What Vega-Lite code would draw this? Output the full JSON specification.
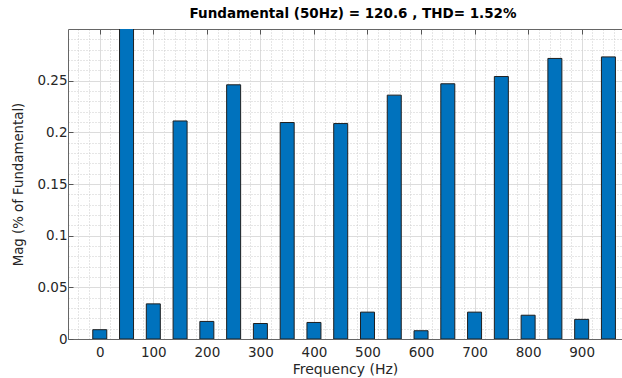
{
  "$schema": "https://vega.github.io/schema/vega-lite/v6.json",
  "width": 554,
  "height": 310,
  "autosize": "none",
  "padding": {"left": 68, "top": 29, "right": 0, "bottom": 39},
  "background": "white",
  "title": {
    "text": "Fundamental (50Hz) = 120.6 , THD= 1.52%",
    "font": "DejaVu Sans",
    "fontSize": 13.5,
    "fontWeight": "bold",
    "color": "#000000",
    "anchor": "middle",
    "dx": 8,
    "offset": 8
  },
  "config": {"view": {"stroke": null}},
  "data": {
    "values": [
      {"freq": 0, "mag": 0.009},
      {"freq": 50, "mag": 100},
      {"freq": 100, "mag": 0.034},
      {"freq": 150, "mag": 0.211},
      {"freq": 200, "mag": 0.017},
      {"freq": 250, "mag": 0.246},
      {"freq": 300, "mag": 0.015},
      {"freq": 350, "mag": 0.2095},
      {"freq": 400, "mag": 0.016},
      {"freq": 450, "mag": 0.2085},
      {"freq": 500, "mag": 0.026},
      {"freq": 550, "mag": 0.236},
      {"freq": 600, "mag": 0.008},
      {"freq": 650, "mag": 0.247},
      {"freq": 700, "mag": 0.026},
      {"freq": 750, "mag": 0.254},
      {"freq": 800, "mag": 0.023},
      {"freq": 850, "mag": 0.2715},
      {"freq": 900, "mag": 0.019},
      {"freq": 950, "mag": 0.273}
    ]
  },
  "layer": [
    {
      "mark": {"type": "bar", "opacity": 0, "size": 14, "clip": true},
      "encoding": {
        "x": {
          "field": "freq", "type": "quantitative",
          "scale": {"domain": [-50, 966], "nice": false, "zero": false},
          "axis": {
            "orient": "bottom",
            "values": [-40, -20, 0, 20, 40, 60, 80, 100, 120, 140, 160, 180, 200, 220, 240, 260, 280, 300, 320, 340, 360, 380, 400, 420, 440, 460, 480, 500, 520, 540, 560, 580, 600, 620, 640, 660, 680, 700, 720, 740, 760, 780, 800, 820, 840, 860, 880, 900, 920, 940, 960],
            "grid": true, "gridDash": [1, 2], "gridColor": "#cccccc", "gridWidth": 1,
            "ticks": false, "labels": false, "domain": false, "title": null
          }
        },
        "y": {
          "field": "mag", "type": "quantitative",
          "scale": {"domain": [0, 0.3], "nice": false, "zero": true},
          "axis": {
            "orient": "left",
            "values": [0.01, 0.02, 0.03, 0.04, 0.06, 0.07, 0.08, 0.09, 0.11, 0.12, 0.13, 0.14, 0.16, 0.17, 0.18, 0.19, 0.21, 0.22, 0.23, 0.24, 0.26, 0.27, 0.28, 0.29],
            "grid": true, "gridDash": [1, 2], "gridColor": "#cccccc", "gridWidth": 1,
            "ticks": false, "labels": false, "domain": false, "title": null
          }
        }
      }
    },
    {
      "mark": {"type": "bar", "size": 14, "clip": true, "fill": "#0072BD", "stroke": "#1f1f1f", "strokeWidth": 1},
      "encoding": {
        "x": {
          "field": "freq", "type": "quantitative",
          "axis": {
            "orient": "bottom",
            "values": [0, 100, 200, 300, 400, 500, 600, 700, 800, 900],
            "grid": true, "gridColor": "#dcdcdc", "gridWidth": 1,
            "ticks": true, "tickSize": -5, "tickColor": "#555555",
            "domain": true, "domainColor": "#666666", "domainWidth": 1,
            "labelFont": "DejaVu Sans", "labelFontSize": 13.5, "labelColor": "#262626", "labelPadding": 11,
            "title": "Frequency (Hz)", "titleFont": "DejaVu Sans", "titleFontSize": 14,
            "titleFontWeight": "normal", "titleColor": "#262626", "titlePadding": 4
          }
        },
        "y": {
          "field": "mag", "type": "quantitative",
          "axis": {
            "orient": "left",
            "values": [0, 0.05, 0.1, 0.15, 0.2, 0.25],
            "format": "~g",
            "grid": true, "gridColor": "#dcdcdc", "gridWidth": 1,
            "ticks": true, "tickSize": -5, "tickColor": "#555555",
            "domain": true, "domainColor": "#666666", "domainWidth": 1,
            "labelFont": "DejaVu Sans", "labelFontSize": 13.5, "labelColor": "#262626", "labelPadding": 6,
            "title": "Mag (% of Fundamental)", "titleFont": "DejaVu Sans", "titleFontSize": 13.3,
            "titleFontWeight": "normal", "titleColor": "#262626", "titlePadding": 11
          }
        }
      }
    },
    {
      "mark": {"type": "bar", "opacity": 0, "size": 14, "clip": true},
      "encoding": {
        "x": {
          "field": "freq", "type": "quantitative",
          "axis": {
            "orient": "top",
            "values": [0, 100, 200, 300, 400, 500, 600, 700, 800, 900],
            "grid": false,
            "ticks": true, "tickSize": -5, "tickColor": "#555555",
            "domain": true, "domainColor": "#666666", "domainWidth": 1,
            "labels": false, "title": null
          }
        },
        "y": {"field": "mag", "type": "quantitative", "axis": null}
      }
    }
  ],
  "resolve": {"axis": {"x": "independent", "y": "independent"}}
}
